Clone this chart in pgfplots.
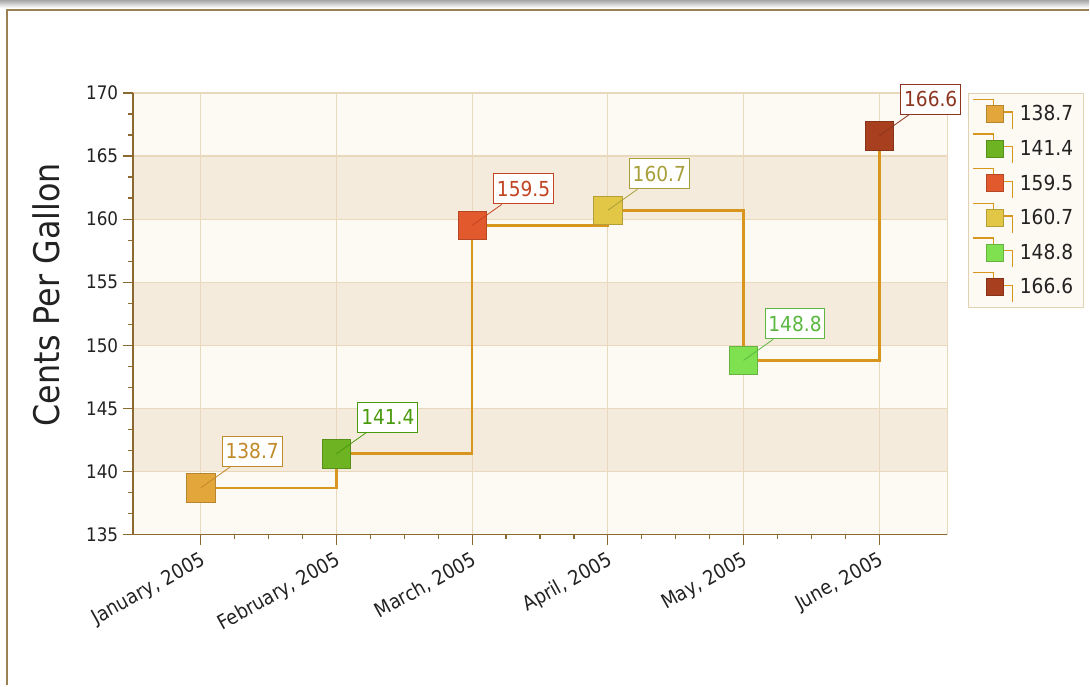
\documentclass[border=0pt]{standalone}
\usepackage{fontspec}
\setmainfont{DejaVu Sans}[FakeStretch=0.9]
\usepackage{pgfplots}
\pgfplotsset{compat=1.18}

\definecolor{axc}{HTML}{8A6A30}
\definecolor{framec}{HTML}{9C8250}
\definecolor{gridc}{HTML}{E8D8BC}
\definecolor{bgc}{HTML}{FDF9F3}
\definecolor{bandc}{HTML}{F5EBDC}
\definecolor{legc}{HTML}{E2D2B4}
\definecolor{stepc}{HTML}{D8961E}
\definecolor{tickc}{HTML}{222222}
% marker fills / label colours
\definecolor{m1}{HTML}{E3A63A}\definecolor{t1}{HTML}{C08A2A}
\definecolor{m2}{HTML}{6DB322}\definecolor{t2}{HTML}{4A9A0E}
\definecolor{m3}{HTML}{E2592D}\definecolor{t3}{HTML}{C24422}
\definecolor{m4}{HTML}{E2C645}\definecolor{t4}{HTML}{A89E3A}
\definecolor{m5}{HTML}{7FE050}\definecolor{t5}{HTML}{5CB840}
\definecolor{m6}{HTML}{A8401F}\definecolor{t6}{HTML}{8E3520}

\pgfplotsset{
  band/.style={fill=#1, draw=none, on layer=axis background, forget plot, mark=none},
  lbl/.style n args={3}{
    only marks, mark=square*, mark size=10.7pt,
    mark options={fill=#1, draw=#1!80!black, line width=0.6pt},
    nodes near coords={},
    every node near coord/.style={inner sep=0pt, outer sep=0pt, minimum size=0pt, anchor=center,
      pin={[pin distance=22.3pt, draw=#2, fill=white, text=#2, line width=0.75pt,
            inner xsep=2.5pt, inner ysep=0pt, minimum height=22.5pt, font=\fontsize{15.5}{17}\selectfont,
            pin edge={draw=#2, line width=0.6pt}]45:#3}},
  },
}

\begin{document}
\begin{tikzpicture}
\path (0,0) rectangle (817.5pt,-514.5pt);
\shade[top color=black!35, bottom color=white] (0,0) rectangle (817.5pt,-6pt);
\draw[framec, line width=1.5pt] (5.25pt,-514.5pt) -- (5.25pt,-7.5pt) -- (817.5pt,-7.5pt);

\begin{axis}[
  at={(99.75pt,-401.25pt)}, anchor=south west,
  scale only axis, width=611.25pt, height=331.5pt,
  xmin=-0.5, xmax=5.5, ymin=135, ymax=170,
  set layers, clip=false,
  axis lines*=left, axis line style={axc, line width=1.2pt, -},
  xtick={0,...,5},
  xticklabels={{January, 2005},{February, 2005},{March, 2005},{April, 2005},{May, 2005},{June, 2005}},
  minor x tick num=3,
  ytick={135,140,...,170}, minor y tick num=2,
  tick align=outside, major tick length=7.5pt, minor tick length=3.5pt,
  tick style={axc, line width=0.9pt},
  grid=major, major grid style={gridc, line width=0.9pt},
  /pgf/number format/assume math mode=true,
  tick label style={font=\fontsize{14}{16}\selectfont, text=tickc},
  x tick label style={rotate=29, anchor=north east, font=\fontsize{15}{17}\selectfont},
  ylabel={Cents Per Gallon},
  every axis y label/.style={at={(axis description cs:-0.106,0.543)}, rotate=90,
    anchor=center, font=\fontsize{26.5}{30}\selectfont, text=tickc},
  legend style={at={(1,1)}, anchor=north west, xshift=15.75pt, draw=legc, fill=bgc,
    line width=0.75pt, font=\fontsize{15.5}{17}\selectfont, text=tickc,
    row sep=3pt, inner xsep=3pt, inner ysep=4pt, cells={anchor=west},
    nodes={inner xsep=5pt}},
  legend image code/.code={
    \draw[stepc, line width=1pt] (-16pt,11pt) -- (-1pt,11pt) -- (-1pt,5pt);
    \draw[stepc, line width=1pt] (6pt,1.5pt) -- (13.5pt,1.5pt) -- (13.5pt,-11pt);
    \draw[#1, mark size=6.4pt] plot coordinates {(0pt,0pt)};
  },
]
% background strips (decoration)
\addplot[band=bgc]   coordinates {(-0.5,135)(5.5,135)(5.5,170)(-0.5,170)(-0.5,135)};
\addplot[band=bandc] coordinates {(-0.5,140)(5.5,140)(5.5,145)(-0.5,145)(-0.5,140)};
\addplot[band=bandc] coordinates {(-0.5,150)(5.5,150)(5.5,155)(-0.5,155)(-0.5,150)};
\addplot[band=bandc] coordinates {(-0.5,160)(5.5,160)(5.5,165)(-0.5,165)(-0.5,160)};
\addplot[gridc, line width=0.9pt, on layer=axis background, forget plot, mark=none]
  coordinates {(5.5,135)(5.5,170)};

\addplot[const plot, stepc, line width=2pt, forget plot, mark=none] coordinates
  {(0,138.7)(1,141.4)(2,159.5)(3,160.7)(4,148.8)(5,166.6)};

\addplot[lbl={m1}{t1}{138.7}] coordinates {(0,138.7)};
\addplot[lbl={m2}{t2}{141.4}] coordinates {(1,141.4)};
\addplot[lbl={m3}{t3}{159.5}] coordinates {(2,159.5)};
\addplot[lbl={m4}{t4}{160.7}] coordinates {(3,160.7)};
\addplot[lbl={m5}{t5}{148.8}] coordinates {(4,148.8)};
\addplot[lbl={m6}{t6}{166.6}] coordinates {(5,166.6)};

\legend{138.7,141.4,159.5,160.7,148.8,166.6}
\end{axis}
\end{tikzpicture}
\end{document}
